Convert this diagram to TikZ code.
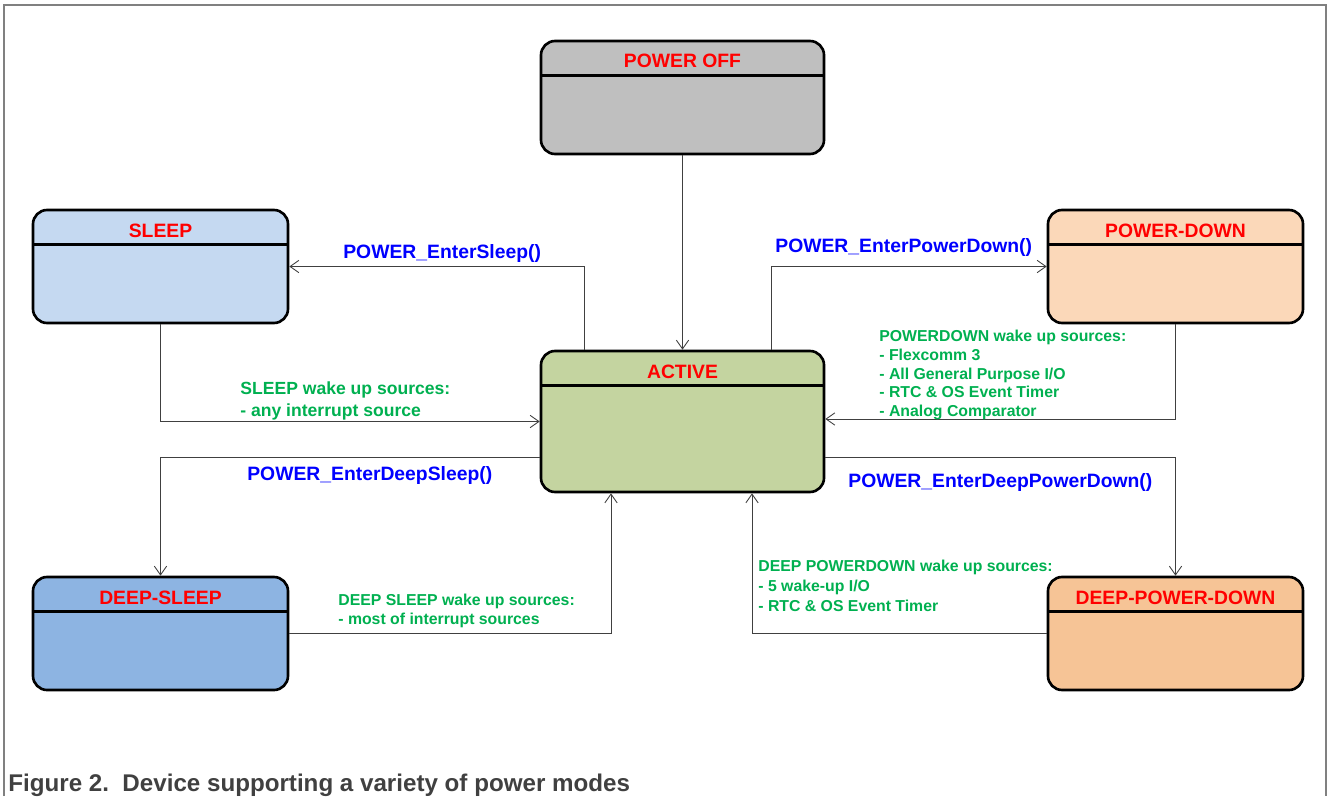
\documentclass[tikz,border=0pt]{standalone}
\usepackage{fontspec}
\setmainfont{Liberation Sans}
\usetikzlibrary{arrows.meta, calc}
\definecolor{offgray}{RGB}{191,191,191}
\definecolor{sleepblue}{RGB}{197,217,241}
\definecolor{deepblue}{RGB}{141,180,226}
\definecolor{activegreen}{RGB}{196,212,160}
\definecolor{downpeach}{RGB}{251,216,185}
\definecolor{deeppeach}{RGB}{246,196,150}
\definecolor{wakegreen}{RGB}{0,176,80}
\definecolor{framegray}{RGB}{128,128,128}
\definecolor{captiongray}{RGB}{64,64,64}

\begin{document}
\begin{tikzpicture}[
    state/.style={draw, line width=1.5pt, rounded corners=8pt, minimum width=5.1cm, inner xsep=0pt, inner ysep=0.26cm,
        text height=0.28cm, text depth=1.46cm, text=red, font=\fontsize{11}{13}\selectfont\bfseries,
        path picture={\draw[line width=1.5pt] ([yshift=-0.69cm]path picture bounding box.north west) -- ([yshift=-0.69cm]path picture bounding box.north east);}},
    arrow/.style={-{Straight Barb[length=5pt, width=7pt]}, line width=0.5pt, black!75},
    call/.style={text=blue, font=\fontsize{11}{13}\selectfont\bfseries, inner sep=0pt, anchor=west},
    wake/.style={text=wakegreen, font=\fontsize{9}{10.6}\selectfont\bfseries, align=left, inner sep=0pt, anchor=north west}
]
\useasboundingbox (0,0) rectangle (26.56,15.92);

% Frame
\draw[framegray, line width=1pt] (0.08,0) |- (26.52,15.82) -- (26.52,0);

% States
\node[state, minimum width=5.66cm, fill=offgray] (poweroff) at (13.65,13.97) {POWER OFF};
\node[state, minimum width=5.66cm, text depth=2.02cm, fill=activegreen] (active) at (13.65,7.49) {ACTIVE};
\node[state, fill=sleepblue] (sleep) at (3.21,10.59) {SLEEP};
\node[state, fill=downpeach] (powerdown) at (23.51,10.59) {POWER-DOWN};
\node[state, fill=deepblue] (deepsleep) at (3.21,3.25) {DEEP-SLEEP};
\node[state, fill=deeppeach] (deeppowerdown) at (23.51,3.25) {DEEP-POWER-DOWN};

% Transitions
\draw[arrow] (poweroff) -- (active);
\draw[arrow] ([xshift=-1.97cm]active.north) |- (sleep.east);
\draw[arrow] (sleep.south) |- (active.west);
\draw[arrow] ([yshift=-0.72cm]active.west) -| (deepsleep.north);
\draw[arrow] (deepsleep.east) -| ([xshift=-1.43cm]active.south);
\draw[arrow] ([xshift=1.77cm]active.north) |- (powerdown.west);
\draw[arrow] (powerdown.south) |- ([yshift=0.05cm]active.east);
\draw[arrow] ([yshift=-0.72cm]active.east) -| (deeppowerdown.north);
\draw[arrow] (deeppowerdown.west) -| ([xshift=1.39cm]active.south);

% API calls
\node[call] (entersleep) at (6.86,10.84) {POWER\_EnterSleep()};
\node[call] (enterpowerdown) at (15.50,10.96) {POWER\_EnterPowerDown()};
\node[call] (enterdeepsleep) at (4.94,6.42) {POWER\_EnterDeepSleep()};
\node[call] (enterdeeppowerdown) at (16.96,6.28) {POWER\_EnterDeepPowerDown()};

% Wake up sources
\node[wake, font=\fontsize{10}{13}\selectfont\bfseries] (wakesleep) at (4.80,8.30) {SLEEP wake up sources:\\- any interrupt source};
\node[wake] (wakepowerdown) at (17.58,9.32) {POWERDOWN wake up sources:\\- Flexcomm 3\\- All General Purpose I/O\\- RTC \& OS Event Timer\\- Analog Comparator};
\node[wake, font=\fontsize{9}{10.8}\selectfont\bfseries] (wakedeepsleep) at (6.76,4.04) {DEEP SLEEP wake up sources:\\- most of interrupt sources};
\node[wake, font=\fontsize{9}{11.3}\selectfont\bfseries] (wakedeeppowerdown) at (15.16,4.72) {DEEP POWERDOWN wake up sources:\\- 5 wake-up I/O\\- RTC \& OS Event Timer};

% Caption
\node[anchor=base west, inner sep=0pt, text=captiongray, font=\fontsize{13.75}{16}\selectfont\bfseries] (caption) at (0.16,0.10) {Figure 2.\ \ Device supporting a variety of power modes};
\end{tikzpicture}
\end{document}
